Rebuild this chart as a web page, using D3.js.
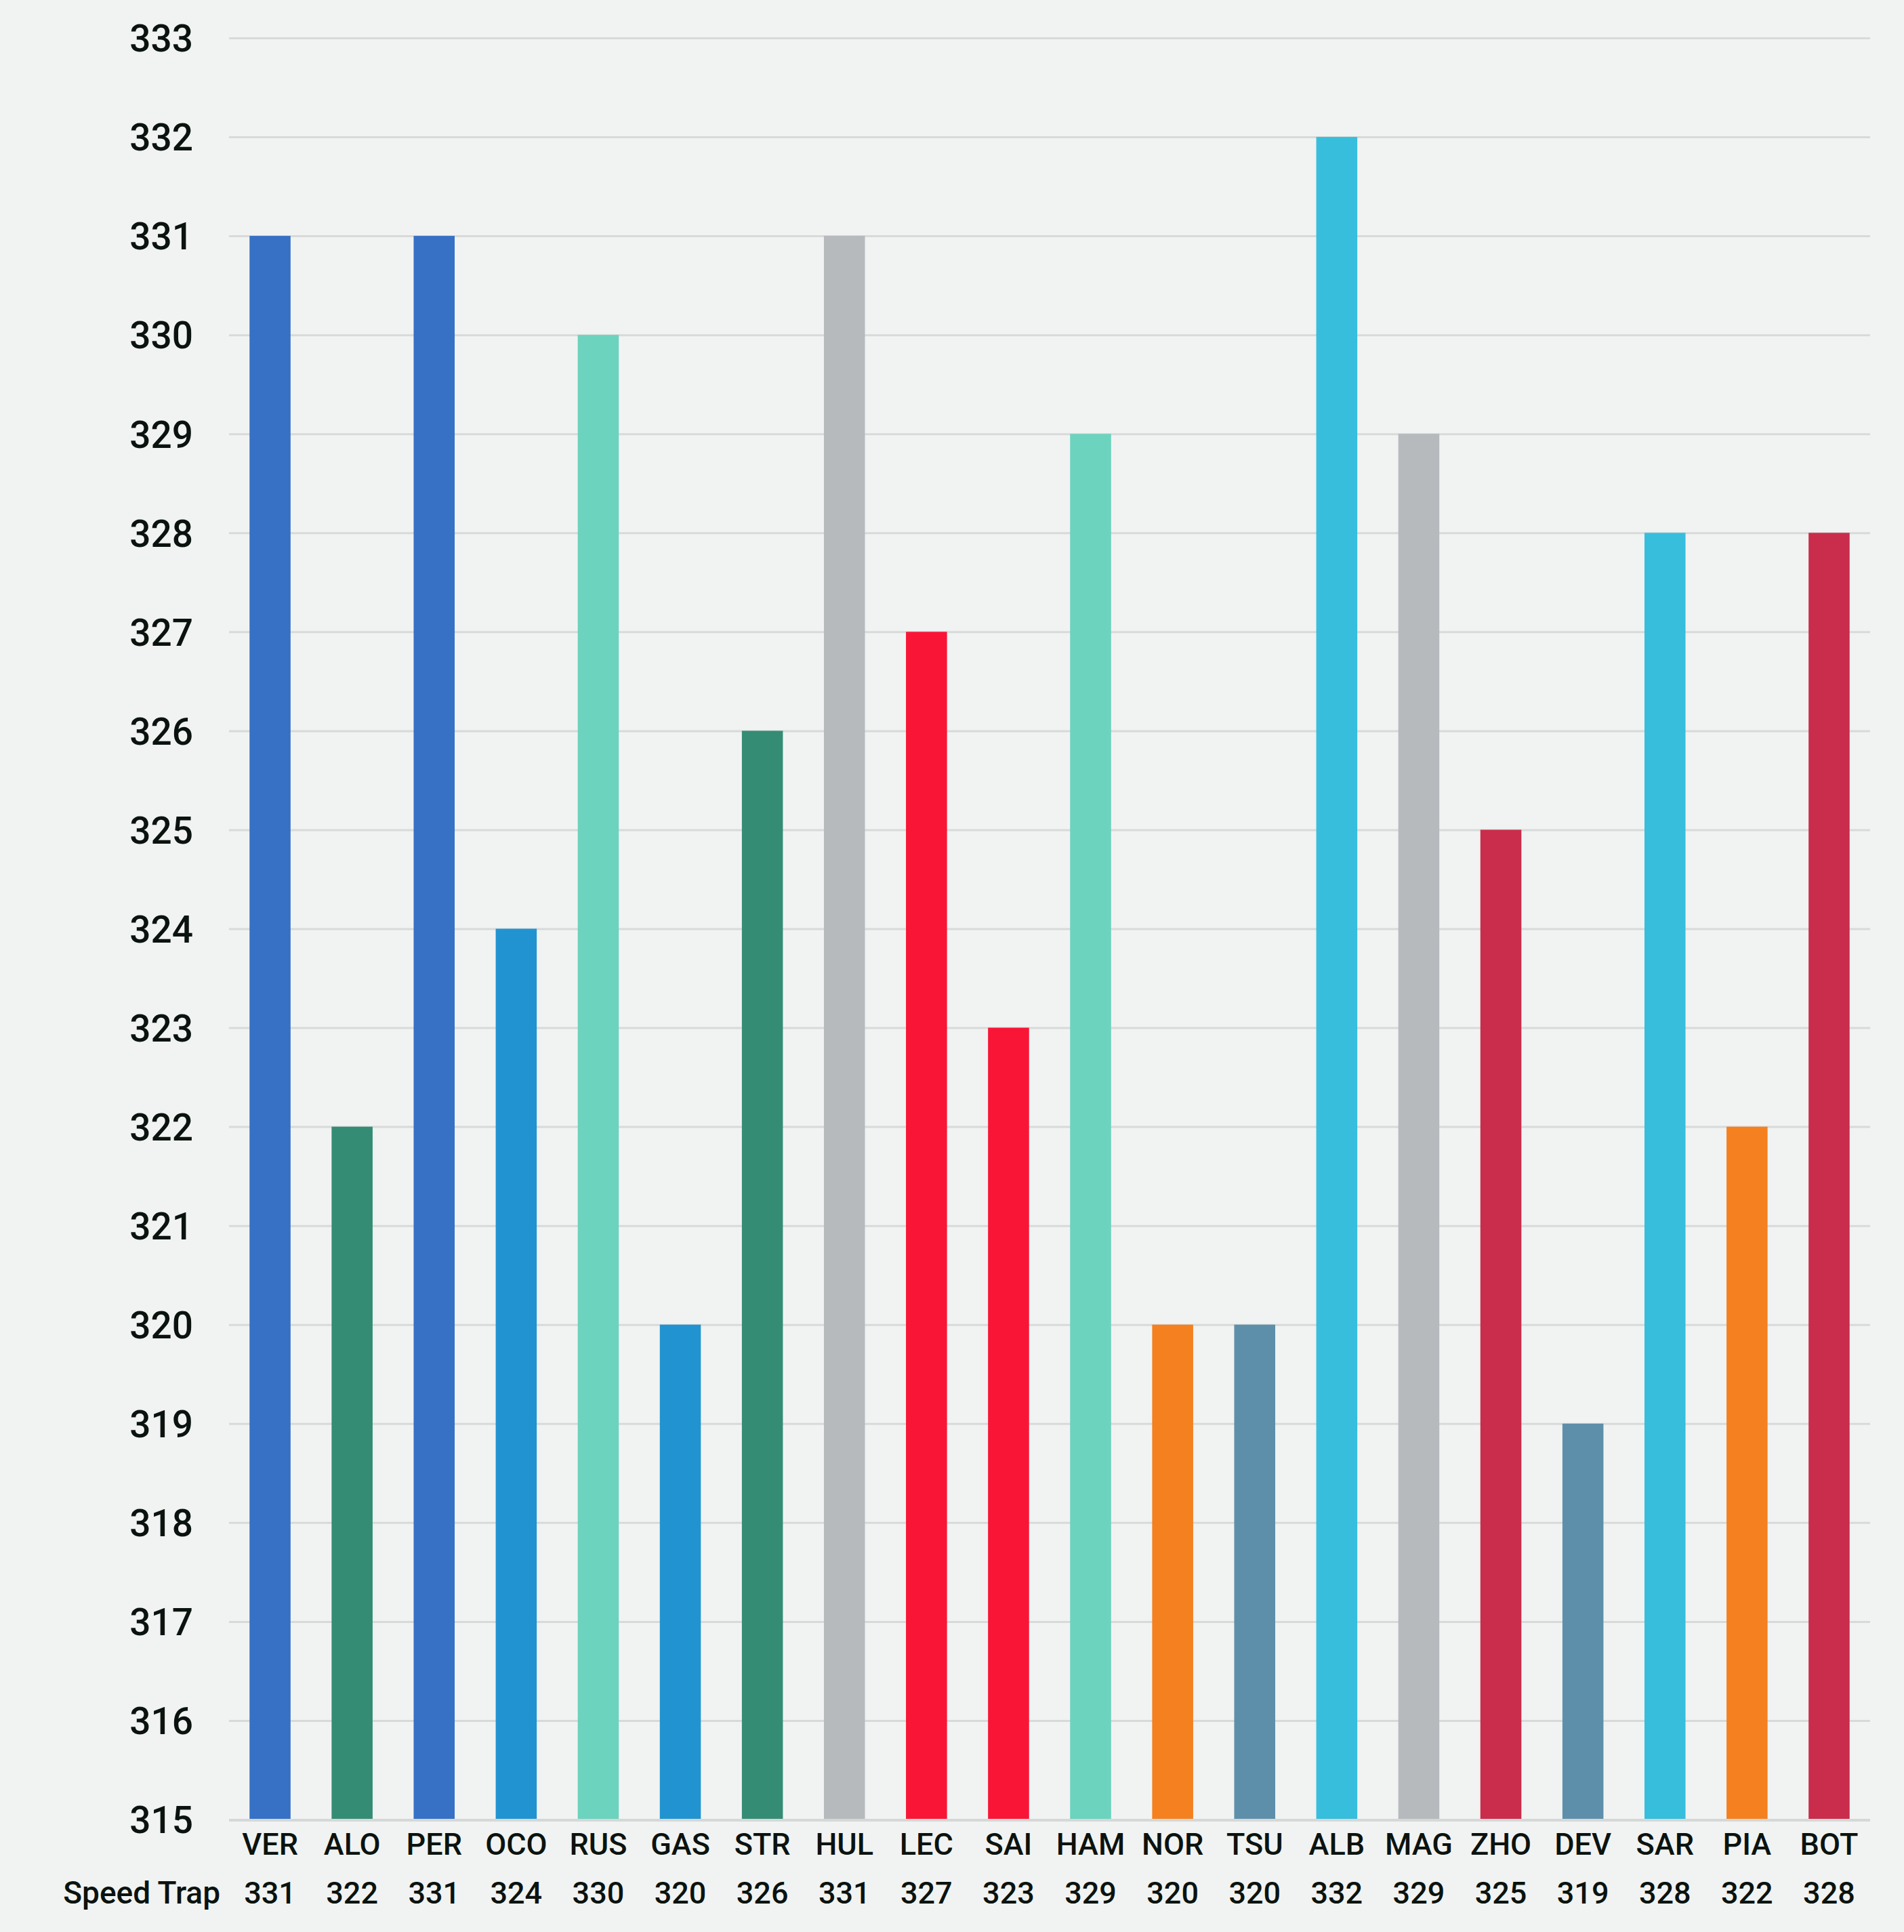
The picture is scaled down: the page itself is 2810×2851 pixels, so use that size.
<!DOCTYPE html>
<html>
<head>
<meta charset="utf-8">
<script src="https://cdn.jsdelivr.net/npm/d3@7"></script>
<style>
  html, body { margin: 0; padding: 0; background: #f1f3f2; }
  svg { display: block; }
  text { font-family: Roboto, "Noto Sans", sans-serif; fill: #0b130f; }
</style>
</head>
<body>
<svg id="chart" width="2810" height="2851"></svg>
<script>
const drivers = ["VER","ALO","PER","OCO","RUS","GAS","STR","HUL","LEC","SAI","HAM","NOR","TSU","ALB","MAG","ZHO","DEV","SAR","PIA","BOT"];
const speedTrap = [331,322,331,324,330,320,326,331,327,323,329,320,320,332,329,325,319,328,322,328];
const barColors = ["#3671C6","#358C75","#3671C6","#2293D1","#6CD3BF","#2293D1","#358C75","#B6BABD","#F91536","#F91536","#6CD3BF","#F58020","#5E8FAA","#37BEDD","#B6BABD","#C92D4B","#5E8FAA","#37BEDD","#F58020","#C92D4B"];
const yTicks = [315,316,317,318,319,320,321,322,323,324,325,326,327,328,329,330,331,332,333];
const rowLabel = "Speed Trap";

const svg = d3.select("#chart");
const W = 2810, H = 2851;
svg.append("rect").attr("width", W).attr("height", H).attr("fill", "#f1f3f2");

const x = d3.scaleBand().domain(drivers).range([338, 2760]).paddingInner(0.5).paddingOuter(0.25);
const y = d3.scaleLinear().domain([315, 333]).range([2685, 56]);

// gridlines
const grid = svg.append("g")
  .call(d3.axisLeft(y).tickValues(yTicks).tickSize(-(2760 - 338)).tickFormat(""))
  .attr("transform", "translate(338,0)");
grid.select(".domain").remove();
grid.selectAll(".tick line").attr("stroke", "#d8dada").attr("stroke-width", 3);

// bars
svg.append("g").selectAll("rect")
  .data(drivers)
  .join("rect")
  .attr("x", d => x(d))
  .attr("width", x.bandwidth())
  .attr("y", (d, i) => y(speedTrap[i]))
  .attr("height", (d, i) => y(315) - y(speedTrap[i]))
  .attr("fill", (d, i) => barColors[i]);

// baseline
svg.append("line")
  .attr("x1", 338).attr("x2", 2760)
  .attr("y1", y(315) + 1).attr("y2", y(315) + 1)
  .attr("stroke", "#d6d8d8").attr("stroke-width", 4);

// y-axis labels
const yAxis = svg.append("g")
  .attr("transform", "translate(285,0)")
  .call(d3.axisLeft(y).tickValues(yTicks).tickSize(0).tickPadding(0).tickFormat(d3.format("d")));
yAxis.select(".domain").remove();
yAxis.selectAll("text")
  .attr("font-family", "Roboto, sans-serif")
  .attr("font-size", 55)
  .attr("font-weight", 500)
  .attr("fill", "#0b130f")
  .attr("dy", "0.36em");

// x labels row 1 (drivers)
const xAxis = svg.append("g")
  .attr("transform", "translate(0,2737)")
  .call(d3.axisBottom(x).tickSize(0).tickPadding(0));
xAxis.select(".domain").remove();
xAxis.selectAll("text")
  .attr("font-family", "Roboto, sans-serif")
  .attr("font-size", 45)
  .attr("font-weight", 500)
  .attr("fill", "#0b130f")
  .attr("dy", 0)
  .attr("y", 0);

// row 2 (values)
svg.append("g").selectAll("text")
  .data(drivers)
  .join("text")
  .attr("x", d => x(d) + x.bandwidth() / 2)
  .attr("y", 2809)
  .attr("text-anchor", "middle")
  .attr("font-size", 45)
  .attr("font-weight", 500)
  .text((d, i) => speedTrap[i]);

svg.append("text")
  .attr("x", 325)
  .attr("y", 2809)
  .attr("text-anchor", "end")
  .attr("font-size", 46)
  .attr("font-weight", 500)
  .text(rowLabel);
</script>
</body>
</html>
